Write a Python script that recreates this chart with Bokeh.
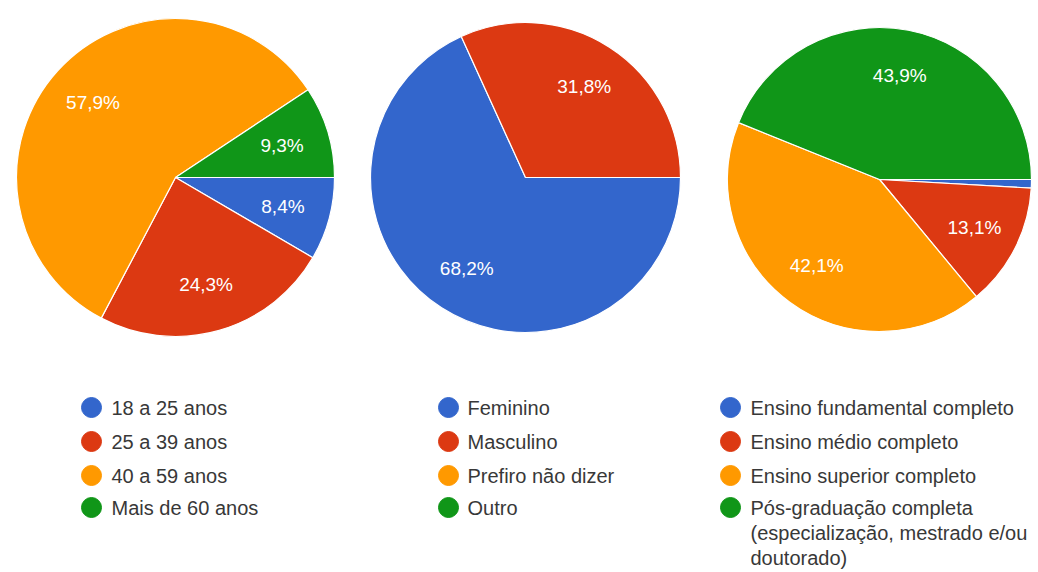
import math
from bokeh.plotting import figure
from bokeh.models import Range1d, ColumnDataSource
from bokeh.core.properties import value
from bokeh.embed import file_html
from bokeh.resources import INLINE

# ---- data ----
age_labels = ["18 a 25 anos", "25 a 39 anos", "40 a 59 anos", "Mais de 60 anos"]
age_values = [8.4, 24.3, 57.9, 9.3]

gender_labels = ["Feminino", "Masculino", "Prefiro não dizer", "Outro"]
gender_values = [68.2, 31.8, 0.0, 0.0]

edu_labels = ["Ensino fundamental completo", "Ensino médio completo",
              "Ensino superior completo",
              "Pós-graduação completa\n(especialização, mestrado e/ou\ndoutorado)"]
edu_values = [0.9, 13.1, 42.1, 43.9]

colors = ["#3366CC", "#DC3912", "#FF9900", "#109618"]

FONT = "Liberation Sans"
W, H = 1036, 570


def pg(y):
    # picture y (from top) -> data y
    return H - y


p = figure(width=W, height=H, output_backend="svg", toolbar_location=None,
           x_range=Range1d(0, W), y_range=Range1d(0, H),
           min_border=0)
p.axis.visible = False
p.grid.visible = False
p.outline_line_color = None
p.background_fill_color = "white"
p.border_fill_color = "white"


def draw_pie(values, cx, cy, r):
    total = sum(values)
    starts, ends, cols, lx, ly, lt = [], [], [], [], [], []
    cum = 0.0
    for v, c in zip(values, colors):
        if v <= 0:
            continue
        a0 = cum / total * 2 * math.pi
        cum += v
        a1 = cum / total * 2 * math.pi
        starts.append(-a1)
        ends.append(-a0)
        cols.append(c)
        if v / total >= 0.05:
            mid = (a0 + a1) / 2
            lx.append(cx + 0.7 * r * math.cos(mid))
            ly.append(pg(cy) - 0.7 * r * math.sin(mid))
            lt.append(f"{v:.1f}".replace(".", ",") + "%")
    src = ColumnDataSource(dict(s=starts, e=ends, c=cols))
    p.wedge(x=cx, y=pg(cy), radius=r, start_angle="s", end_angle="e",
            direction="anticlock", fill_color="c", line_color="white",
            line_width=1.2, source=src)
    p.text(x=lx, y=ly, text=lt, text_color="white",
           text_font=value(FONT), text_font_size="19px",
           text_align="center", text_baseline="middle")


def draw_legend(labels, mx, tx, ys):
    for lab, c, y in zip(labels, colors, ys):
        p.scatter(x=[mx], y=[pg(y)], size=20, marker="circle",
                  fill_color=c, line_color=c)
        lines = lab.split("\n")
        for k, line in enumerate(lines):
            p.text(x=[tx], y=[pg(y + 25 * k)], text=[line],
                   text_color="#383838", text_font=value(FONT),
                   text_font_size="20px", text_align="left",
                   text_baseline="middle")


draw_pie(age_values, 175, 177, 159)
draw_pie(gender_values, 525, 177, 155)
draw_pie(edu_values, 879, 179, 152)

rows = [407, 441, 475, 507]
draw_legend(age_labels, 91, 111, rows)
draw_legend(gender_labels, 448, 467, rows)
draw_legend(edu_labels, 730, 750, rows)

open("out.html", "w").write(file_html(p, INLINE))
